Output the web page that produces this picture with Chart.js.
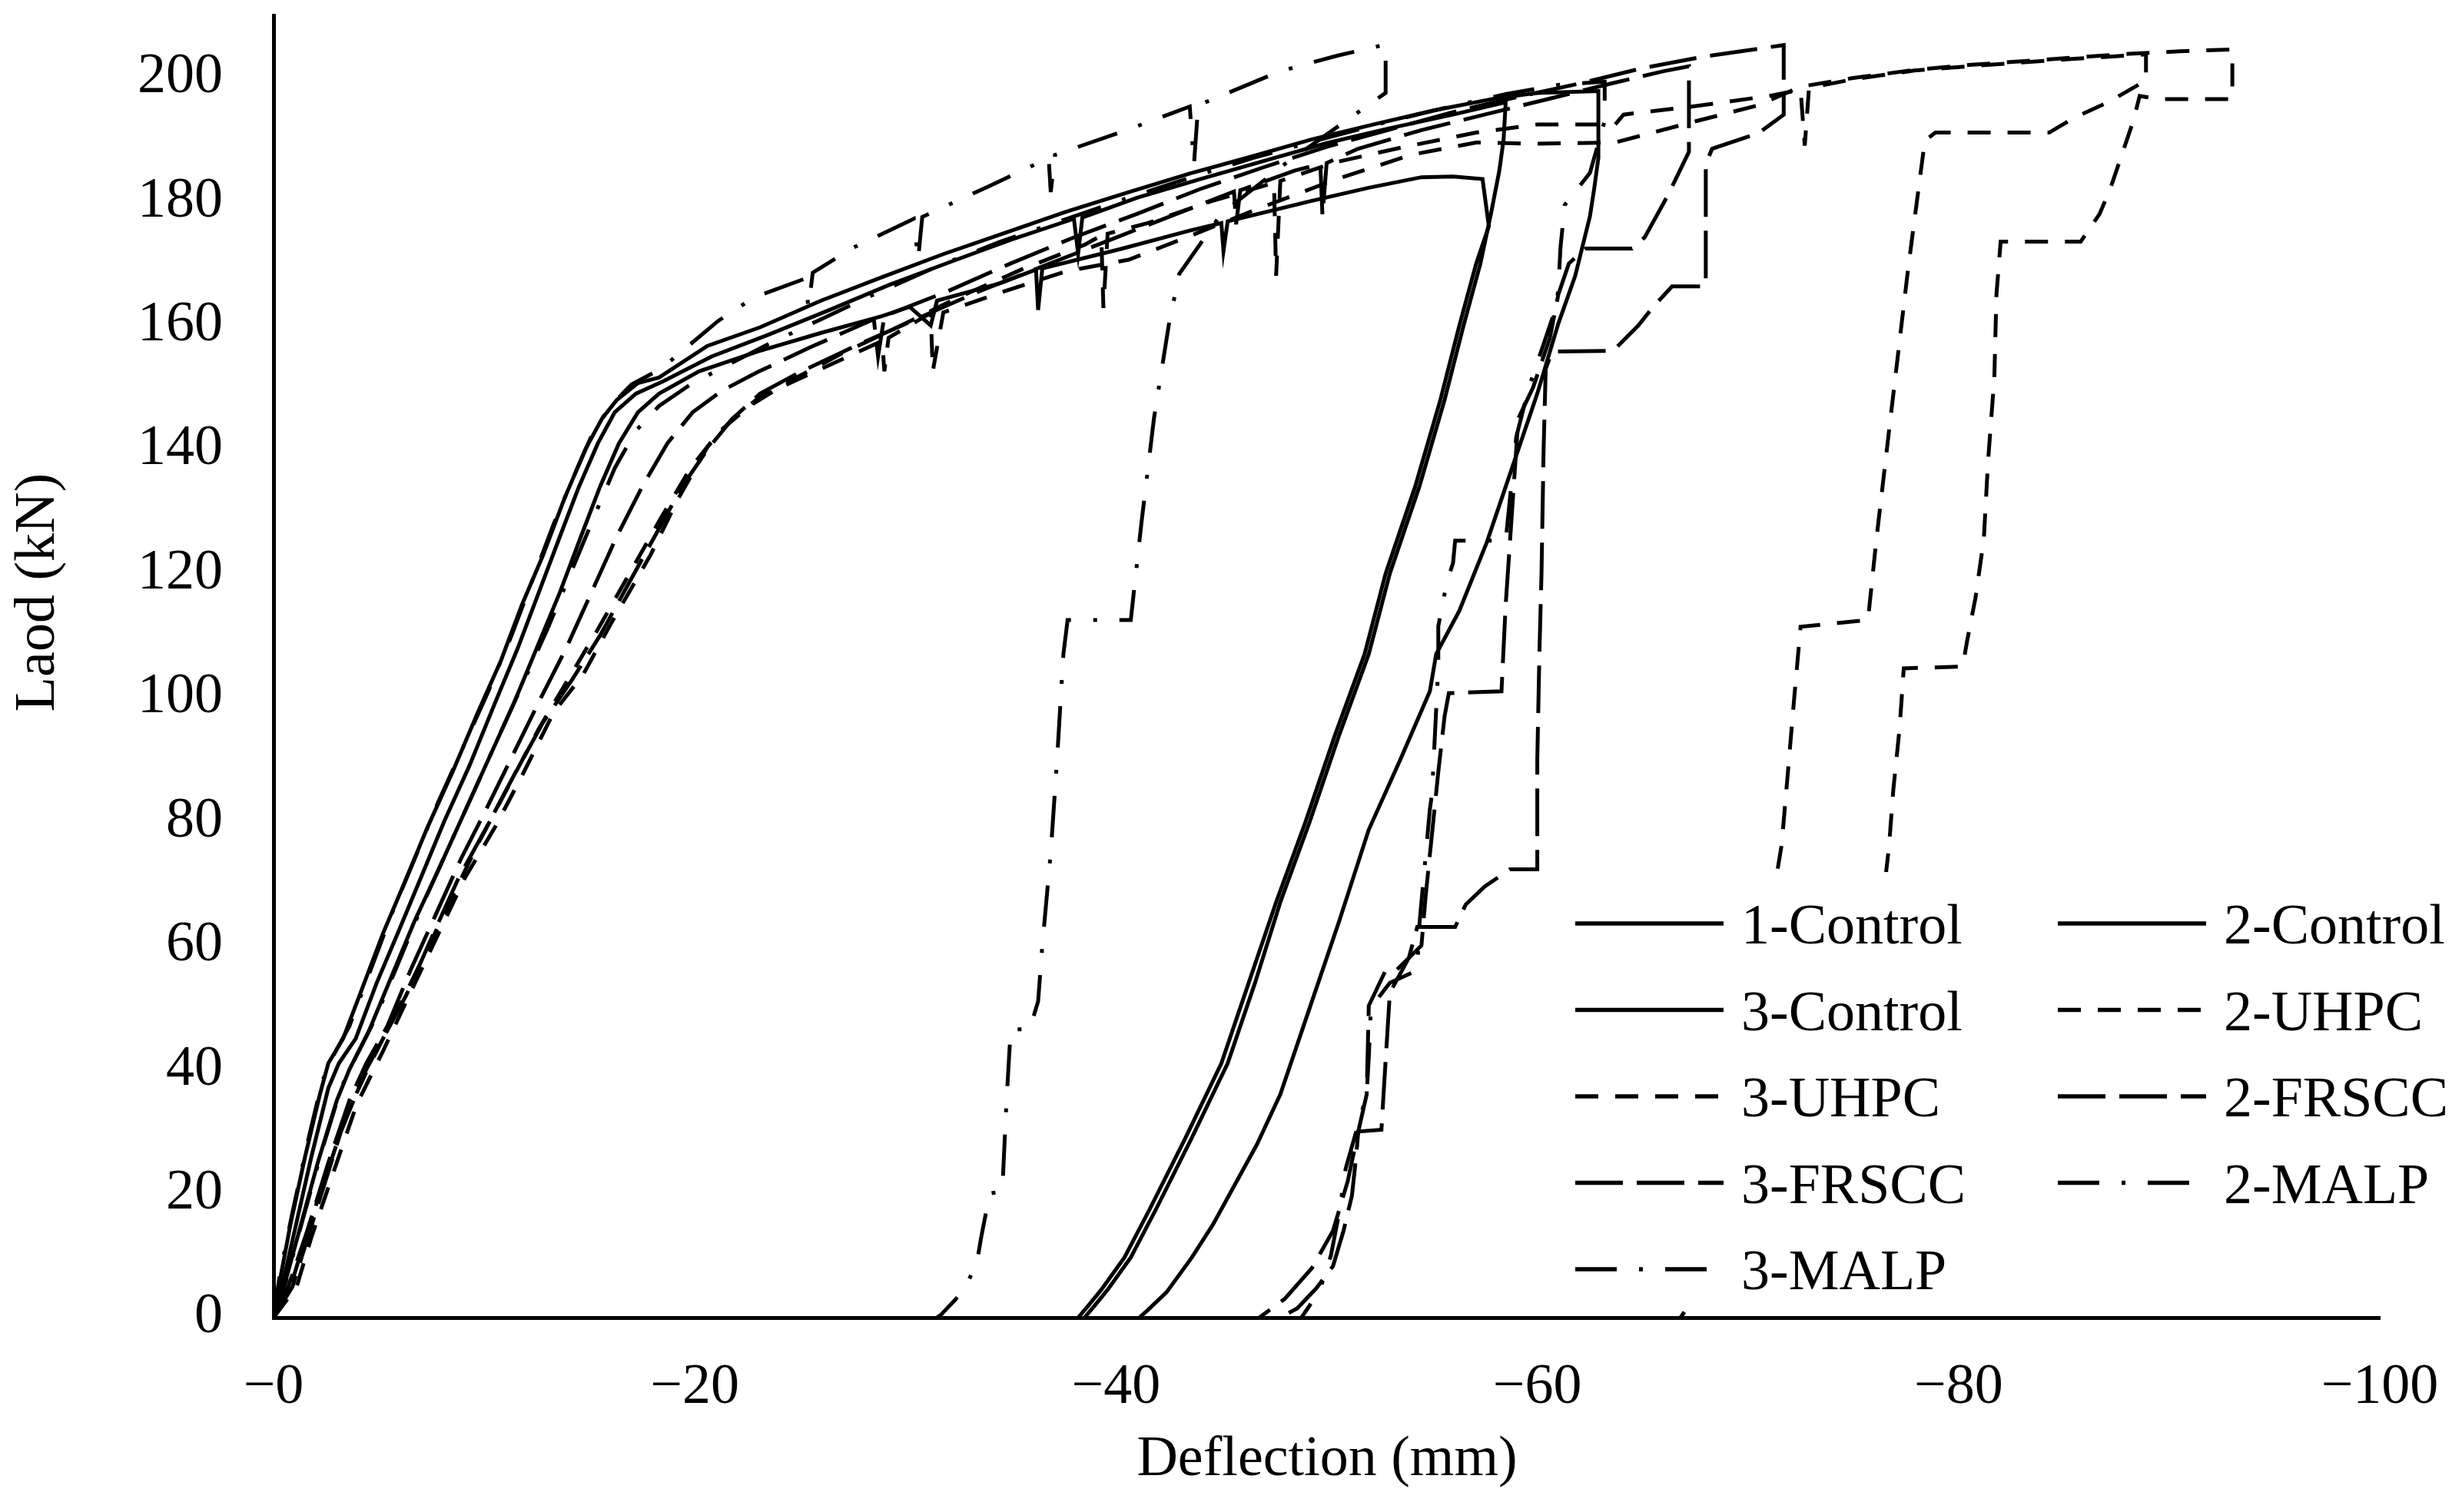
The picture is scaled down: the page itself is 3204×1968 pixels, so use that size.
<!DOCTYPE html>
<html>
<head>
<meta charset="utf-8">
<script src="https://cdn.jsdelivr.net/npm/chart.js@4.4.1/dist/chart.umd.min.js"></script>
<style>
    html, body { margin: 0; padding: 0; background: #fff; }
    #wrap { width: 3204px; height: 1968px; }
</style>
</head>
<body>
<div id="wrap"><canvas id="loadChart" width="3204" height="1968"></canvas></div>
<script>
// Curvas carga-deflexión: [deflexión (mm), carga (kN)]
const seriesNames = ['1-Control', '2-Control', '3-Control', '2-UHPC', '3-UHPC', '2-FRSCC', '3-FRSCC', '2-MALP', '3-MALP'];

const control1 = [[0,0],[-0.4,5],[-1,14],[-1.8,26],[-2.6,37],[-3.1,41],[-3.9,45],[-4.9,54],[-5.9,62],[-7,71],[-8.1,80],[-9.3,89],[-10.5,99],[-11.6,108],[-12.6,117],[-13.6,126],[-14.5,134],[-15.4,141],[-16.2,146],[-17.2,149],[-18.5,151],[-20.8,155],[-23.5,158.5],[-26.4,162.5],[-29.2,166.5],[-32.1,170.2],[-35,173.8],[-38,177.2],[-38.2,171.6],[-38.4,177.4],[-41,180.6],[-44,183.6],[-47,186.5],[-50,189.4],[-53,191.8],[-56,194],[-58.5,196],
    [-58.4,190],[-58.2,185],[-57.8,178],[-57.3,170],[-56.5,160],[-55.6,148],[-54.4,134],[-53,120],[-52,107],[-50.6,94],[-49.2,80],[-47.8,67],[-46.6,54],[-45.3,41],[-43.6,29],[-41.9,17.5],[-40.7,9.7],[-39.6,4.5],[-39,2],[-38.5,0]];

const control2 = [[0,0],[-0.5,5],[-1.3,15],[-2.1,25],[-3,35],[-3.6,40],[-4.5,46],[-5.6,55],[-6.7,64],[-7.8,72],[-9,81],[-10.2,90],[-11.4,99],[-12.5,108],[-13.6,117],[-14.6,126],[-15.5,134],[-16.4,141],[-17.3,146],[-18.3,149],[-20.2,152.6],[-23,155.8],[-26,158.8],[-28.9,161.5],[-30.2,163],[-31.2,160],[-31.5,164],[-34.5,166.8],[-36.2,169],[-36.3,162.5],[-36.5,169.2],[-40.2,172.3],[-43.5,175.3],[-45,176.5],[-45.1,172],[-45.3,176.8],[-49.3,180.1],[-52,182.2],[-54.5,183.9],[-56,184],[-57.4,183.6],
    [-57.7,176],[-57.1,170],[-56.3,160],[-55.4,148],[-54.2,134],[-52.8,120],[-51.8,107],[-50.4,94],[-49,80],[-47.6,67],[-46.3,54],[-45,41],[-43.3,29],[-41.6,17.5],[-40.4,9.7],[-39.3,4.5],[-38.7,2],[-38.2,0]];

const control3 = [[0,0],[-0.3,6],[-0.8,15],[-1.5,26],[-2.2,36],[-2.6,41],[-3.3,45],[-4.2,53],[-5.2,62],[-6.2,70],[-7.3,79],[-8.5,88],[-9.7,97.6],[-10.8,106],[-11.8,115],[-12.8,123],[-13.8,132],[-14.8,140],[-15.6,145],[-16.3,148],[-17.3,150.7],[-18.3,151.6],[-20.6,156.7],[-23.1,159.7],[-26,164],[-28.9,167.8],[-31.8,171.5],[-34.7,174.9],[-37.6,178.3],[-40.6,181.5],[-43.5,184.5],[-46.4,187.2],[-49.3,190],[-52.2,192.4],[-55,194.6],[-58,196.6],[-60,197.5],[-62.9,197.8],
    [-62.9,187],[-62.7,182],[-62.5,177.6],[-61.8,168],[-61,160.3],[-60,149],[-58.9,138],[-57.6,125],[-56.3,114],[-55.2,107],[-54.9,101],[-53.5,90],[-52,78.7],[-50.6,64],[-49.2,50],[-47.8,36],[-46.7,28],[-45.7,21.8],[-44.6,15],[-43.6,9.7],[-42.4,4.1],[-41.5,1.2],[-41.1,0]];

const uhpc2 = [[0,0],[-1.1,5],[-1.8,13],[-2.5,20],[-3.2,27],[-3.95,34.4],[-5.2,43],[-6.4,51.7],[-7.7,61],[-9.1,71],[-10.5,79],[-11.8,87.4],[-13.3,97.6],[-14.7,103.7],[-16,111.8],[-17.9,123],[-19.2,132],[-20.6,140.4],[-21.8,145],[-23.1,148.5],[-26,153],[-28.9,157.5],[-29,152.6],[-29.2,158],[-31.2,162],[-31.3,152.6],[-31.8,162.1],[-34.7,165.5],[-37.6,168.7],[-40.6,170.6],[-43.2,174],[-46.5,178.5],[-50.4,183.5],[-54,187.5],[-57.1,189.5],[-60,189.3],[-63.7,189.5],[-67.6,193],[-70.5,195.5],[-72.5,198.5],[-75,199.9],[-77.9,201.2],[-80.5,202],[-83,202.6],[-85.5,203.2],[-88.1,203.8],[-90.5,204.2],[-93,204.5],
    [-93,196.5],[-89.5,196.5],[-88.6,197],[-88.3,193],[-87.8,188],[-87.2,182],[-86.7,178],[-85.8,173.5],[-82,173.5],[-81.8,165],[-81.7,151.6],[-81.4,138],[-81.2,125.5],[-80.8,116],[-80.4,109],[-80.2,105],[-77.4,104.7],[-77.2,95],[-76.9,85],[-76.7,76],[-76.5,70],[-76.2,55],[-75.5,42],[-71,40],[-70.2,30],[-69,15],[-67.8,5],[-66.8,0]];

const uhpc3 = [[0,0],[-0.9,6],[-1.7,15],[-2.6,24],[-3.5,33],[-4.6,41],[-5.8,49],[-7.1,58],[-8.5,68],[-9.8,77],[-11.2,86],[-12.6,95],[-14,103],[-15.4,111],[-16.9,120],[-18.4,129],[-19.8,137],[-21.2,143],[-22.6,147],[-24.5,151],[-27,155.5],[-29.8,160],[-32.5,164.5],[-35.5,169],[-38.5,173],[-39.3,174.5],[-39.4,162.8],[-39.6,174.8],[-41.5,176.5],[-44.5,180],[-47.5,183],[-47.6,168],[-47.8,183.3],[-50.4,186.3],[-53.7,188.8],[-57.1,191.1],[-60,192.4],[-63.7,192.4],[-64.1,194],[-67.6,195.4],[-71,197],[-72.5,198],[-72.7,189],[-72.9,198.3],[-75,199.7],[-77.9,201.1],[-80.5,201.8],[-83,202.4],[-85.5,203],[-88.9,203.7],
    [-88.9,199.5],[-87.1,196],[-85.5,193.5],[-84.3,191.1],[-78.9,191.1],[-78.4,189.8],[-77.6,169],[-76.7,143],[-76.1,125.5],[-75.7,112.5],[-72.5,111.4],[-72.2,100],[-71.9,88],[-71.6,76.2],[-71.3,70],[-70.8,50],[-66,45],[-65.2,30],[-64.2,12],[-63.3,0]];

const frscc2 = [[0,0],[-0.7,5],[-1.6,14],[-2.6,25],[-3.6,35],[-4.4,41],[-5.4,47],[-6.5,56],[-7.7,65],[-8.9,74],[-10.1,82],[-11.4,91],[-12.7,100],[-13.9,108],[-15.1,117],[-16.3,126],[-17.5,134],[-18.7,141],[-19.9,146],[-21.3,149.5],[-23,152.5],[-25.5,156.5],[-28.5,161],[-28.7,155],[-29,161.5],[-32,165.5],[-35,170],[-38,174.2],[-41,178],[-44,182],[-47,185.5],[-50,188.8],[-53,191.6],[-56,194.4],[-59,196.8],[-62,199],[-65,201.5],[-68,203.4],[-71.7,205.2],
    [-71.7,194],[-70.5,191],[-68.3,188.5],[-68,186],[-68,166.3],[-66.4,166.3],[-65.5,163],[-64.8,160],[-63.6,155.9],[-60.7,155.8],[-60.4,153],[-60.3,140],[-60.2,120],[-60.1,107],[-60,90],[-60,72.3],[-58.7,72.3],[-57.5,69.5],[-56.6,66.6],[-56.1,63],[-54.3,63],[-53.9,58],[-53,52.4],[-52.7,36],[-52.6,30.3],[-51.5,30],[-51.4,26],[-51.2,19.7],[-50.8,14],[-50.3,8.3],[-49.5,4.7],[-48.6,1.5],[-47.8,0]];

const frscc3 = [[0,0],[-0.9,5],[-2,17],[-3.2,30],[-4.4,40],[-5.2,45],[-6.3,52],[-7.6,62],[-8.8,71],[-10.1,79],[-11.5,88],[-12.8,96],[-14.2,103],[-15.5,110],[-16.8,118],[-18.1,126],[-19.4,134],[-20.6,140],[-21.8,145],[-23.1,149],[-25,152.5],[-27.5,156.5],[-30.5,161],[-33.5,165.5],[-36.5,169.5],[-39.5,173.5],[-42.5,177.5],[-45.6,181.6],[-45.7,176.3],[-45.9,181.8],[-48.5,185],[-49.7,186],[-49.8,177.7],[-50,186.2],[-51.5,188.5],[-54.5,191.5],[-57.5,194],[-60.5,196.5],[-63.5,199],[-66,201],[-67.2,201.8],
    [-67.2,188],[-66.2,181],[-65.1,174.2],[-64.5,172.4],[-62.3,172.4],[-61.5,170],[-61,165],[-60.6,158],[-59.8,150],[-59.1,145],[-58.8,130],[-58.5,115],[-58.3,101],[-55.8,100.7],[-55.6,97],[-55.3,88],[-55,78],[-54.7,68],[-54.5,60],[-53.3,56],[-52.8,56],[-52,50.3],[-51.9,36],[-51.5,30],[-51,22],[-50.3,14],[-49.3,8],[-48,3],[-46.8,0]];

const malp2 = [[0,0],[-0.3,7],[-0.9,17],[-1.6,28],[-2.3,38],[-2.8,42],[-3.6,47],[-4.6,56],[-5.6,65],[-6.7,74],[-7.8,83],[-9,92],[-10.2,101],[-11.3,110],[-12.3,119],[-13.3,128],[-14.3,136],[-15.2,143],[-16,147],[-17,150.5],[-18.4,153],[-19.8,157],[-21.1,160.7],[-22.8,164.5],[-25.2,167.5],[-25.4,163],[-25.6,168.5],[-27.5,172.5],[-30.4,177.2],[-30.6,170.6],[-30.8,177.5],[-34,182.5],[-36.8,187],[-36.9,181.5],[-37.1,187.5],[-40.5,191.5],[-43.5,195.3],[-43.7,186],[-43.9,195.5],[-47.8,201],[-50.5,203.5],[-52.8,205.3],
    [-52.8,197.5],[-48,186],[-45,178],[-43,168.3],[-42.5,160],[-41.8,145],[-41.2,128],[-40.7,112.5],[-37.7,112.5],[-37.5,107],[-37.2,90],[-36.9,75],[-36.5,60],[-36.3,51],[-35.9,46.5],[-35,46.5],[-34.8,35],[-34.6,20.4],[-34,20],[-33.6,13],[-33.4,9],[-33,6],[-32.4,3],[-31.7,0.5],[-31.5,0]];

const malp3 = [[0,0],[-0.6,6],[-1.4,16],[-2.3,27],[-3.2,37],[-3.9,42],[-4.8,48],[-5.9,57],[-7,66],[-8.2,75],[-9.4,84],[-10.6,93],[-11.8,102],[-13,111],[-14.1,120],[-15.2,129],[-16.2,137],[-17.2,143],[-18.3,147],[-19.8,150.5],[-21.5,153.5],[-23.5,157],[-26,161],[-28.5,165],[-31.5,169.5],[-34.5,173.5],[-37.5,177],[-40.5,180.5],[-43.5,183.8],[-46.5,187],[-49.5,189.8],[-52.5,192.5],[-55.5,195],[-58.5,197.3],[-61,198.8],[-63.2,199.3],
    [-63.2,193],[-62.5,184.6],[-61.3,179.4],[-61.1,172.5],[-61,166],[-60.9,163],[-60.3,157],[-59.6,150],[-59,142],[-58.7,132],[-58.5,125.3],[-56.1,125.3],[-56,121.7],[-55.7,118.5],[-55.3,111.5],[-55.3,105],[-55,84.4],[-54.9,82],[-54.4,63.3],[-54.3,56],[-53,54],[-52.1,50],[-52,42],[-51.9,36],[-51.4,30],[-50.9,24],[-50.6,17],[-50.2,10],[-49.7,4.7],[-49.2,2],[-48.8,0]];

const seriesData = [control1, control2, control3, uhpc2, uhpc3, frscc2, frscc3, malp2, malp3];

// Ejes
const xTickValues = [0, -20, -40, -60, -80, -100];
const yTickValues = [0, 20, 40, 60, 80, 100, 120, 140, 160, 180, 200];
const xTitle = 'Deflection (mm)';
const yTitle = 'Laod (kN)';

// Estilos de línea (Excel: sólido, guion corto, guion largo, guion-punto)
const dashStyles = [[], [], [], [30, 22], [30, 22], [62, 18], [62, 18], [54, 29, 5, 29], [54, 29, 5, 29]];

const FONT = "'Liberation Serif', 'Times New Roman', serif";

const drawExtras = {
    id: 'drawExtras',
    afterDraw(chart) {
        const ctx = chart.ctx;
        ctx.save();

        // Leyenda dentro del área del gráfico, con fondo blanco
        ctx.fillStyle = '#fff';
        ctx.fillRect(2010, 1135, 1194, 570);
        ctx.font = `74px ${FONT}`;
        ctx.textBaseline = 'alphabetic';
        ctx.textAlign = 'left';
        chart.data.datasets.forEach((ds, i) => {
            const col = i % 2;
            const row = Math.floor(i / 2);
            const x0 = col ? 2678 : 2050;
            const y = 1202 + row * 112.5;
            ctx.beginPath();
            ctx.setLineDash(ds.borderDash || []);
            ctx.lineWidth = ds.borderWidth + 0.5;
            ctx.strokeStyle = ds.borderColor;
            ctx.moveTo(x0, y);
            ctx.lineTo(x0 + 193, y);
            ctx.stroke();
            ctx.setLineDash([]);
            ctx.fillStyle = '#000';
            ctx.fillText(ds.label, x0 + 216, y + 26);
        });

        // Títulos de ejes
        ctx.fillStyle = '#000';
        ctx.textAlign = 'center';
        ctx.fillText(xTitle, 1727, 1920);
        ctx.translate(70, 771);
        ctx.rotate(-Math.PI / 2);
        ctx.fillText(yTitle, 0, 0);
        ctx.restore();
    }
};

const renderLoadChart = () => {
    const ctx = document.getElementById('loadChart').getContext('2d');
    new Chart(ctx, {
        type: 'scatter',
        data: {
            datasets: seriesNames.map((name, i) => ({
                label: name,
                data: seriesData[i].map(p => ({x: p[0], y: p[1]})),
                showLine: true,
                borderColor: '#000',
                backgroundColor: '#000',
                borderWidth: 5,
                borderDash: dashStyles[i],
                pointRadius: 0,
                pointHoverRadius: 0,
                tension: 0
            }))
        },
        options: {
            responsive: false,
            animation: false,
            devicePixelRatio: 1,
            layout: {padding: {top: 20, right: 107, left: 0, bottom: 0}},
            plugins: {
                legend: {display: false},
                tooltip: {enabled: false}
            },
            scales: {
                x: {
                    type: 'linear',
                    reverse: true,
                    min: -100,
                    max: 0,
                    grid: {drawOnChartArea: false, drawTicks: false, color: 'rgba(0,0,0,0)'},
                    border: {display: true, color: '#000', width: 5},
                    afterBuildTicks: scale => { scale.ticks = xTickValues.map(v => ({value: v})); },
                    afterFit: scale => {
                        scale.height = 253;
                        scale.paddingLeft = 0;
                        scale.paddingRight = 0;
                    },
                    ticks: {
                        padding: 47,
                        color: '#000',
                        font: {family: FONT, size: 74},
                        maxRotation: 0,
                        callback: v => '\u2212' + Math.abs(v)
                    }
                },
                y: {
                    type: 'linear',
                    min: 0,
                    max: 210,
                    grid: {drawOnChartArea: false, drawTicks: false, color: 'rgba(0,0,0,0)'},
                    border: {display: true, color: '#000', width: 5},
                    afterBuildTicks: scale => { scale.ticks = yTickValues.map(v => ({value: v})); },
                    afterFit: scale => {
                        scale.width = 356;
                        scale.paddingTop = 0;
                        scale.paddingBottom = 0;
                    },
                    ticks: {
                        padding: 66,
                        color: '#000',
                        font: {family: FONT, size: 74}
                    }
                }
            }
        },
        plugins: [drawExtras]
    });
};

document.addEventListener('DOMContentLoaded', renderLoadChart);
</script>
</body>
</html>
